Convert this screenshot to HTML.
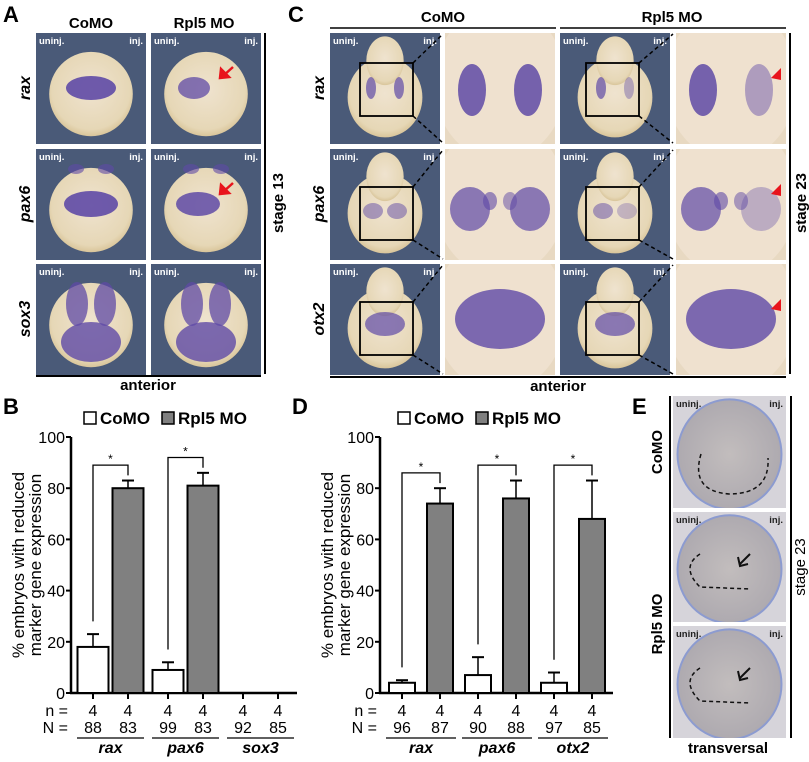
<!DOCTYPE html>
<html><head><meta charset="utf-8"><style>
body{margin:0;background:#fff;}
svg text{font-family:"Liberation Sans",sans-serif;}
</style></head><body>
<svg id="fig" width="809" height="757" viewBox="0 0 809 757" xmlns="http://www.w3.org/2000/svg">
<defs id="defs">
<radialGradient id="emb" cx="50%" cy="45%" r="55%"><stop offset="0" stop-color="#efe3cf"/><stop offset="0.85" stop-color="#e6d7b6"/><stop offset="1" stop-color="#d9c59a"/></radialGradient>
<radialGradient id="sec" cx="50%" cy="50%" r="60%"><stop offset="0" stop-color="#c2bdbd"/><stop offset="1" stop-color="#aaa6ad"/></radialGradient>
</defs>
<g id="photos"></g>
<g id="charts"></g>
</svg>
<script>
const NS="http://www.w3.org/2000/svg";
const svg=document.getElementById('fig');
const DEFS=document.getElementById('defs');
const P=document.getElementById('photos');
const C=document.getElementById('charts');
function el(tag,attrs,parent,text){const e=document.createElementNS(NS,tag);for(const k in attrs)e.setAttribute(k,attrs[k]);if(text!==undefined)e.textContent=text;(parent||svg).appendChild(e);return e;}
function txt(x,y,s,size,opts,parent){opts=opts||{};const a={x:x,y:y,'font-size':size,'font-weight':opts.w||'bold',fill:opts.fill||'#000','text-anchor':opts.a||'middle'};if(opts.it)a['font-style']='italic';if(opts.rot)a.transform='rotate('+opts.rot+' '+x+' '+y+')';return el('text',a,parent,s);}

[['A',3,22],['C',288,22],['B',3,414],['D',292,414],['E',632,414]].forEach(([l,x,y])=>{
 const t=txt(x,y,l,22,{a:'start'});
 
 
});

let clipN=0;
function photo(x,y,w,h,kind,labels,name){
 const cid='clip'+(clipN++);
 const cp=el('clipPath',{id:cid},DEFS);
 el('rect',{x:x,y:y,width:w,height:h},cp);
 const g=el('g',{'clip-path':'url(#'+cid+')'},P);
 
 
 if(kind==='zoom'){
  el('rect',{x:x,y:y,width:w,height:h,fill:'#e8d9c2'},g);
  el('ellipse',{cx:x+w/2,cy:y+h*0.45,rx:w*0.6,ry:h*0.7,fill:'#efe1cf'},g);
 }else if(kind==='sec'){
  el('rect',{x:x,y:y,width:w,height:h,fill:'#d6d4da'},g);
  el('ellipse',{cx:x+w/2,cy:y+h*0.52,rx:w*0.46,ry:h*0.49,fill:'url(#sec)',stroke:'#8c9bd0','stroke-width':2},g);
 }else{
  el('rect',{x:x,y:y,width:w,height:h,fill:'#4a5a78'},g);
  if(kind==='c23'){
   el('ellipse',{cx:x+w/2,cy:y+h*0.58,rx:w*0.34,ry:h*0.36,fill:'url(#emb)'},g);
   el('ellipse',{cx:x+w/2,cy:y+h*0.25,rx:w*0.17,ry:h*0.22,fill:'url(#emb)'},g);
  }else{
   el('ellipse',{cx:x+w/2,cy:y+h*0.55,rx:w*0.38,ry:h*0.38,fill:'url(#emb)'},g);
  }
 }
 if(labels){
  txt(x+3,y+11,'uninj.',9.5,{a:'start',fill:kind==='sec'?'#222':'#fff'},g);
  txt(x+w-3,y+11,'inj.',9.5,{a:'end',fill:kind==='sec'?'#222':'#fff'},g);
 }
 return g;
}
function blob(cx,cy,rx,ry,op,g){el('ellipse',{cx:cx,cy:cy,rx:rx,ry:ry,fill:'#5f4aa6',opacity:op},g||P);}

/* Panel A */
const aCols=[36,151], aRows=[33,149,264], pw=110, ph=111;
const aGenes=['rax','pax6','sox3'];
aRows.forEach((ry,ri)=>{aCols.forEach((cx,ci)=>{
 const g=photo(cx,ry,pw,ph,'a',true,'panel-a-'+aGenes[ri]+'-'+(ci?'rpl5':'como'));
 const mx=cx+pw/2;
 if(ri===0){ if(ci===0)blob(mx,ry+55,25,12,0.9,g); else blob(mx-12,ry+55,16,11,0.75,g);}
 if(ri===1){ blob(mx-15,ry+20,8,5,0.6,g);blob(mx+15,ry+20,8,5,0.6,g);
   if(ci===0)blob(mx,ry+55,27,13,0.9,g); else blob(mx-8,ry+55,22,12,0.85,g);}
 if(ri===2){ blob(mx-14,ry+40,11,22,0.75,g);blob(mx+14,ry+40,11,22,0.75,g);blob(mx,ry+78,30,20,0.8,g);}
 if(ci===1&&ri<2){el('path',{d:'M'+(cx+82)+' '+(ry+34)+' L'+(cx+72)+' '+(ry+43)+' M'+(cx+70)+' '+(ry+36)+' L'+(cx+69)+' '+(ry+45)+' L'+(cx+78)+' '+(ry+44)+' Z',stroke:'#e8141c','stroke-width':2.5,fill:'#e8141c'},P);}
});});
txt(91,28,'CoMO',15,{},P); txt(204,28,'Rpl5 MO',15,{},P);
aGenes.forEach((gn,i)=>txt(30,aRows[i]+55,gn,16,{it:true,rot:-90},P));
el('line',{x1:265,y1:33,x2:265,y2:374,stroke:'#000','stroke-width':2},P);
txt(283,203,'stage 13',15,{rot:-90},P);
el('line',{x1:36,y1:376,x2:261,y2:376,stroke:'#000','stroke-width':2},P);
txt(148,390,'anterior',15,{},P);

/* Panel C */
const cCols=[330,445,560,676], cGenes=['rax','pax6','otx2'];
aRows.forEach((ry,ri)=>{cCols.forEach((cx,ci)=>{
 const zoom=(ci%2===1);
 const g=photo(cx,ry,pw,ph,zoom?'zoom':'c23',!zoom,'panel-c-'+cGenes[ri]+'-'+(ci<2?'como':'rpl5')+(zoom?'-zoom':''));
 const mx=cx+pw/2;
 if(!zoom){
  const bx=cx+(ci===0?30:26), by=ry+(ri===0?30:38);
  if(ri===0){blob(mx-14,ry+55,5,11,0.7,g);blob(mx+14,ry+55,5,11,ci===2?0.4:0.7,g);}
  if(ri===1){blob(mx-12,ry+62,10,8,0.5,g);blob(mx+12,ry+62,10,8,ci===2?0.3:0.5,g);}
  if(ri===2){blob(mx,ry+60,20,12,0.7,g);}
  el('rect',{x:bx,y:by,width:53,height:53,fill:'none',stroke:'#000','stroke-width':1.8},P);
  el('line',{x1:bx+53,y1:by,x2:cx+pw+3,y2:ry+1,stroke:'#000','stroke-width':1.5,'stroke-dasharray':'4,3'},P);
  el('line',{x1:bx+53,y1:by+53,x2:cx+pw+3,y2:ry+ph-1,stroke:'#000','stroke-width':1.5,'stroke-dasharray':'4,3'},P);
 }else{
  const weak=(ci===3);
  if(ri===0){blob(mx-28,ry+57,14,26,0.85,g);blob(mx+28,ry+57,14,26,weak?0.45:0.85,g);}
  if(ri===1){blob(mx-30,ry+60,20,22,0.7,g);blob(mx+30,ry+60,20,22,weak?0.35:0.7,g);blob(mx-10,ry+52,7,9,0.6,g);blob(mx+10,ry+52,7,9,0.5,g);}
  if(ri===2){blob(mx,ry+55,45,30,0.8,g);}
  if(weak){const ax=cx+105,ay=ry+45;el('path',{d:'M'+ax+' '+(ay-10)+' L'+(ax-10)+' '+ay+' L'+ax+' '+(ay+2)+' Z',fill:'#e8141c'},P);}
 }
});});
txt(443,22,'CoMO',15,{},P); txt(672,22,'Rpl5 MO',15,{},P);
el('line',{x1:330,y1:28,x2:556,y2:28,stroke:'#000','stroke-width':1.5},P);
el('line',{x1:560,y1:28,x2:786,y2:28,stroke:'#000','stroke-width':1.5},P);
cGenes.forEach((gn,i)=>txt(324,aRows[i]+55,gn,16,{it:true,rot:-90},P));
el('line',{x1:790,y1:33,x2:790,y2:374,stroke:'#000','stroke-width':2},P);
txt(806,203,'stage 23',15,{rot:-90},P);
el('line',{x1:330,y1:377,x2:786,y2:377,stroke:'#000','stroke-width':2},P);
txt(558,391,'anterior',15,{},P);

/* Panel E */
const eRows=[[396,112],[512,110],[626,112]];
eRows.forEach(([y,h],i)=>{
 photo(673,y,113,h,'sec',true,'panel-e-section-'+(i+1));
 el('path',{d:i===0?'M701 '+(y+58)+' Q690 '+(y+95)+' 729 '+(y+98)+' Q770 '+(y+98)+' 768 '+(y+62):'M700 '+(y+42)+' Q680 '+(y+55)+' 700 '+(y+75)+' L750 '+(y+77),fill:'none',stroke:'#111','stroke-width':1.5,'stroke-dasharray':'4,3'},P);
 if(i>0)el('path',{d:'M750 '+(y+42)+' L740 '+(y+52)+' M738 '+(y+45)+' L740 '+(y+54)+' L748 '+(y+52),stroke:'#111','stroke-width':2,fill:'none'},P);
});
el('line',{x1:670,y1:396,x2:670,y2:738,stroke:'#000','stroke-width':2},P);
el('line',{x1:791,y1:396,x2:791,y2:738,stroke:'#000','stroke-width':2},P);
txt(662,452,'CoMO',15,{rot:-90},P);
txt(662,624,'Rpl5 MO',15,{rot:-90},P);
txt(805,567,'stage 23',15,{rot:-90,w:'normal'},P);
txt(728,753,'transversal',15,{},P);
</script>
<script>
const yTicks=[0,20,40,60,80,100];
const bGenes=['rax','pax6','sox3'];
const bCoMO=[18,9,0];
const bCoMOErr=[5,3,0];
const bRpl5=[80,81,0];
const bRpl5Err=[3,5,0];
const bSmallN=[4,4,4,4,4,4];
const bBigN=[88,83,99,83,92,85];
const bSig=[true,true,false];

const dGenes=['rax','pax6','otx2'];
const dCoMO=[4,7,4];
const dCoMOErr=[1,7,4];
const dRpl5=[74,76,68];
const dRpl5Err=[6,7,15];
const dSmallN=[4,4,4,4,4,4];
const dBigN=[96,87,90,88,97,85];
const dSig=[true,true,true];

function drawChart(cfg){
 const g=el('g',{},C);
 
 
 const y0=693,y100=437;
 const ys=v=>y0-(v/100)*(y0-y100);
 const xs=i=>cfg.x0+i*cfg.step+Math.floor(i/2)*cfg.groupGap;
 el('line',{x1:cfg.ax,y1:y100,x2:cfg.ax,y2:y0+1,stroke:'#000','stroke-width':2.5},g);
 el('line',{x1:cfg.ax-1,y1:y0,x2:cfg.axEnd,y2:y0,stroke:'#000','stroke-width':2.5},g);
 yTicks.forEach(t=>{
  el('line',{x1:cfg.ax-5,y1:ys(t),x2:cfg.ax,y2:ys(t),stroke:'#000','stroke-width':2},g);
  const lb=txt(cfg.ax-6,ys(t)+6,String(t),16,{a:'end',w:'normal'},g);
  
  
 });
 const yt=txt(cfg.ax-47,565,'% embryos with reduced',17,{rot:-90,w:'normal'},g);
 
 
 txt(cfg.ax-30,565,'marker gene expression',17,{rot:-90,w:'normal'},g);
 cfg.genes.forEach((gn,gi)=>{
  [[cfg.co,cfg.coE,'#fff'],[cfg.rp,cfg.rpE,'#808080']].forEach(([vals,errs,fill],k)=>{
   const i=gi*2+k, cx=xs(i), v=vals[gi], e=errs[gi];
   el('line',{x1:cx,y1:y0,x2:cx,y2:y0+6,stroke:'#000','stroke-width':2},g);
   if(v>0){
    el('line',{x1:cx,y1:ys(v+e),x2:cx,y2:ys(v),stroke:'#000','stroke-width':1.5},g);
    el('line',{x1:cx-6,y1:ys(v+e),x2:cx+6,y2:ys(v+e),stroke:'#000','stroke-width':2},g);
    const b=el('rect',{x:cx-cfg.bw/2,y:ys(v),width:cfg.bw,height:y0-ys(v),fill:fill,stroke:'#000','stroke-width':2},g);
    
    
   }
   txt(cx,716,String(cfg.sn[i]),16,{w:'normal'},g);
   txt(cx,733,String(cfg.bn[i]),16,{w:'normal'},g);
  });
  const c1=xs(gi*2), c2=xs(gi*2+1);
  el('line',{x1:c1-16,y1:738,x2:c2+16,y2:738,stroke:'#000','stroke-width':1.3},g);
  txt((c1+c2)/2,753,gn,16,{it:true},g);
  if(cfg.sig[gi]){
   const top=ys(Math.max(cfg.rp[gi]+cfg.rpE[gi],80)+6);
   const sb=el('path',{d:'M'+c1+' '+ys(cfg.co[gi]+cfg.coE[gi]+5)+' L'+c1+' '+top+' L'+c2+' '+top+' L'+c2+' '+ys(cfg.rp[gi]+cfg.rpE[gi]+2),fill:'none',stroke:'#000','stroke-width':1.3},g);
   
   
   txt((c1+c2)/2,top-2,'*',12,{w:'normal'},g);
  }
 });
 txt(cfg.ax-3,716,'n =',16,{a:'end',w:'normal'},g);
 txt(cfg.ax-3,733,'N =',16,{a:'end',w:'normal'},g);
 const lg=el('g',{},g);
 
 
 el('rect',{x:cfg.lx,y:412,width:12,height:12,fill:'#fff',stroke:'#000','stroke-width':1.5},lg);
 txt(cfg.lx+16,424,'CoMO',17,{a:'start'},lg);
 el('rect',{x:cfg.lx+78,y:412,width:12,height:12,fill:'#808080',stroke:'#000','stroke-width':1.5},lg);
 txt(cfg.lx+94,424,'Rpl5 MO',17,{a:'start'},lg);
}
drawChart({name:'chart-b',ax:71,axEnd:297,x0:93,step:35,groupGap:5,bw:31,genes:bGenes,co:bCoMO,coE:bCoMOErr,rp:bRpl5,rpE:bRpl5Err,sn:bSmallN,bn:bBigN,sig:bSig,lx:84});
drawChart({name:'chart-d',ax:380,axEnd:613,x0:402,step:38,groupGap:0,bw:26,genes:dGenes,co:dCoMO,coE:dCoMOErr,rp:dRpl5,rpE:dRpl5Err,sn:dSmallN,bn:dBigN,sig:dSig,lx:398});
</script>
</body></html>
